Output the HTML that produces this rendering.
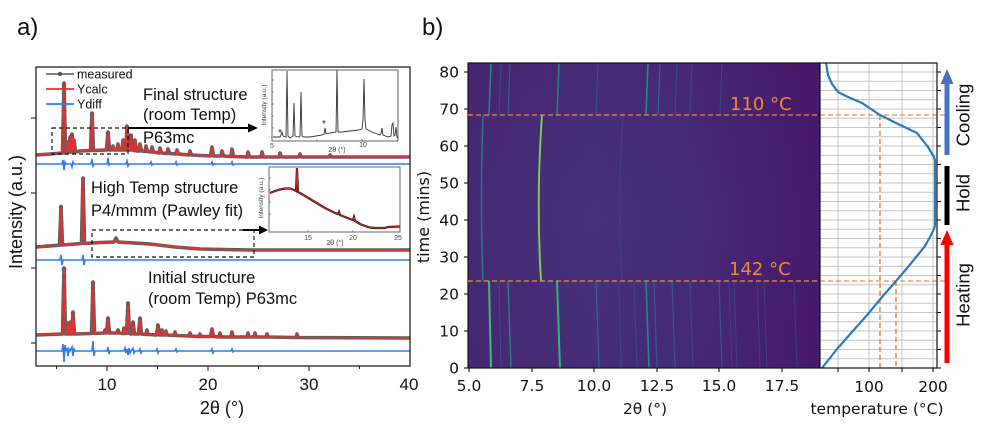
<!DOCTYPE html>
<html><head><meta charset="utf-8"><style>
html,body{margin:0;padding:0;background:#fff;}
svg{display:block;}
.a{font-family:"Liberation Sans",Arial,sans-serif;}
.b{font-family:"DejaVu Sans","Liberation Sans",sans-serif;}
</style></head><body>
<svg width="1000" height="426" viewBox="0 0 1000 426" xmlns="http://www.w3.org/2000/svg">
<defs>
<linearGradient id="hm" x1="0" y1="0" x2="1" y2="0">
<stop offset="0" stop-color="#452b73"/>
<stop offset="0.35" stop-color="#47317c"/>
<stop offset="0.6" stop-color="#462e79"/>
<stop offset="1" stop-color="#461b6b"/>
</linearGradient>
<linearGradient id="hmv" x1="0" y1="0" x2="0" y2="1">
<stop offset="0" stop-color="#440154" stop-opacity="0.12"/>
<stop offset="0.5" stop-color="#440154" stop-opacity="0"/>
<stop offset="1" stop-color="#440154" stop-opacity="0.08"/>
</linearGradient>
</defs>
<rect width="1000" height="426" fill="#fff"/>

<!-- ================= PANEL A ================= -->
<text class="a" x="17" y="35" font-size="24" fill="#111">a)</text>
<text class="a" transform="translate(22,212) rotate(-90)" text-anchor="middle" font-size="18" fill="#111">Intensity (a.u.)</text>

<!-- diff lines -->
<g fill="none" stroke="#2d7cf0" stroke-width="1.6">
<path d="M36,164 L62,164 L63,160 L64,170 L65,162 L66,164 L71,164 L72,167 L73,162 L74,164 L91,164 L92,159 L93,166 L94,164 L107,164 L108,158 L109,165 L110,164 L126,164 L127,161 L128,166 L129,164 L150,164 L151,162 L152,165 L153,164 L175,164 L176,162 L177,165 L178,164 L211,164 L212,162 L213,165 L214,164 L231,164 L232,162 L233,165 L234,164 L410,164"/>
<path d="M36,260 L60,260 L61,255 L62,265 L63,260 L82,260 L83,255 L84,265 L85,260 L410,260"/>
<path d="M36,351 L62,351 L63,344 L64,362 L65,345 L66,351 L67,348 L68,356 L69,349 L70,351 L72,347 L73,356 L74,349 L75,351 L92,351 L93,341 L94,356 L95,351 L107,351 L108,347 L109,354 L110,351 L124,351 L125,348 L126,353 L127,349 L128,355 L129,348 L130,353 L131,351 L133,348 L134,353 L135,351 L139,351 L140,349 L141,353 L142,351 L156,351 L157,349 L158,353 L159,351 L175,351 L176,349 L177,352 L178,351 L211,351 L212,349 L213,353 L214,351 L231,351 L232,349 L233,352 L234,351 L410,351"/>
</g>

<!-- measured (grey) + calc (red) -->
<g fill="none" stroke-linejoin="round">
<path id="pt" stroke="#5e5e5e" stroke-width="3.6" d="M36,155 L50,154 L62.5,153 L64,83 L65.5,153 L67,152.8 L68,142 L69,152 L70,137 L71,152 L72,134 L73,152 L74,140 L75.5,152 L80,151 L90.5,150.5 L92,113 L93.5,150.5 L106.5,150 L108,132 L109.5,150 L112,150 L113,146 L114,150 L117,150 L118,144 L119,150 L122,150 L123,140 L124,150 L126,150 L127,126 L128.5,150 L130,150 L131,135 L132.5,150 L134,150.5 L135,140 L136.5,151 L139,151 L140,144 L141.5,151 L145,151.5 L146,146 L147.5,151.5 L151,152 L152,147 L153.5,152 L159,153 L160,148 L161.5,153 L167,153.5 L168,149 L169.5,153.5 L176,154 L177,150 L178.5,154 L189,155 L190,151 L191.5,155 L210.5,156 L212,147 L213.5,156 L221,156 L222,151 L223.5,156 L231,156.5 L232,149 L233.5,156.5 L247,157 L248,152 L249.5,157 L261,157 L262,152 L263.5,157 L279,157 L280,153 L281.5,157 L299,157 L300,154 L301.5,157 L329,157 L330,155 L331.5,157 L410,157"/>
<path stroke="#5e5e5e" stroke-width="3.6" d="M36,247 L59.5,245.2 L61,207 L62.5,245 L81.5,243.5 L83,178 L84.5,243.5 L100,242.5 L114,242 L116,238 L118,242 L150,244 L175,247 L200,249 L250,250 L410,250"/>
<path stroke="#5e5e5e" stroke-width="3.6" d="M36,335 L62.5,334 L64,268 L65.5,334 L67,334 L68,323 L69,334 L69.5,334 L70.5,322 L71.5,334 L72,334 L73,312 L74.5,334 L91.5,333.5 L93,282 L94.5,333.5 L104,333 L105,330 L106,333 L106.5,333 L108,318 L109.5,333 L117,333 L118,330 L119,333 L123,333.5 L124,328 L125,333.5 L126.5,333.5 L128,303 L129.5,333.5 L131.5,334 L133,322 L134.5,334 L138.5,334 L140,318 L141.5,334 L146,334.5 L147,330 L148,334.5 L156.5,335 L158,325 L159.5,335 L161,335 L162,330 L163,335 L165,335 L166,331 L167,335 L174,335.5 L175,332 L176,335.5 L189,336 L190,333 L191,336 L199,336.5 L200,334 L201,336.5 L210.5,336.5 L212,329 L213.5,336.5 L219,337 L220,333 L221,337 L231,337 L232,332 L233,337 L247,337 L248,333 L249,337 L254,337 L255,333 L256,337 L266,337 L267,334 L268,337 L296,337.5 L297,334 L298,337.5 L410,338"/>
</g>
<g fill="#5a5a5a">
<circle cx="64" cy="84" r="2.2"/><circle cx="64" cy="93" r="2.2"/><circle cx="64" cy="102" r="2.2"/><circle cx="64" cy="111" r="2.2"/><circle cx="64" cy="120" r="2.2"/><circle cx="64" cy="130" r="2.2"/><circle cx="64" cy="140" r="2.2"/>
<circle cx="92" cy="114" r="2.2"/><circle cx="92" cy="124" r="2.2"/><circle cx="92" cy="134" r="2.2"/><circle cx="92" cy="144" r="2.2"/>
<circle cx="108" cy="133" r="2.2"/><circle cx="108" cy="142" r="2.2"/><circle cx="127" cy="127" r="2.2"/><circle cx="127" cy="137" r="2.2"/><circle cx="131" cy="136" r="2"/><circle cx="72" cy="135" r="2"/><circle cx="72" cy="144" r="2"/><circle cx="70" cy="139" r="2"/>
<circle cx="61" cy="207" r="2.2"/><circle cx="61" cy="217" r="2.2"/><circle cx="61" cy="227" r="2.2"/><circle cx="61" cy="237" r="2.2"/>
<circle cx="83" cy="179" r="2.2"/><circle cx="83" cy="189" r="2.2"/><circle cx="83" cy="199" r="2.2"/><circle cx="83" cy="209" r="2.2"/><circle cx="83" cy="219" r="2.2"/><circle cx="83" cy="229" r="2.2"/>
<circle cx="64" cy="269" r="2.4"/><circle cx="64" cy="276" r="2.2"/><circle cx="64" cy="290" r="2.2"/><circle cx="64" cy="305" r="2.2"/><circle cx="64" cy="320" r="2.2"/>
<circle cx="93" cy="283" r="2.2"/><circle cx="93" cy="288" r="2.2"/><circle cx="93" cy="294" r="2.2"/><circle cx="93" cy="306" r="2.2"/><circle cx="93" cy="319" r="2.2"/>
<circle cx="73" cy="313" r="2.2"/><circle cx="73" cy="320" r="2.2"/><circle cx="128" cy="304" r="2.2"/><circle cx="128" cy="311" r="2.2"/><circle cx="108" cy="319" r="2.2"/><circle cx="105" cy="331" r="2"/><circle cx="118" cy="331" r="2"/><circle cx="133" cy="323" r="2"/><circle cx="140" cy="319" r="2"/><circle cx="124" cy="329" r="2"/><circle cx="158" cy="326" r="2"/>
</g>
<g fill="none" stroke="#ee2d2d" stroke-width="1.4" stroke-linejoin="round">
<path d="M36,155 L50,154 L62.5,153 L64,83 L65.5,153 L67,152.8 L68,142 L69,152 L70,137 L71,152 L72,134 L73,152 L74,140 L75.5,152 L80,151 L90.5,150.5 L92,113 L93.5,150.5 L106.5,150 L108,132 L109.5,150 L112,150 L113,146 L114,150 L117,150 L118,144 L119,150 L122,150 L123,140 L124,150 L126,150 L127,126 L128.5,150 L130,150 L131,135 L132.5,150 L134,150.5 L135,140 L136.5,151 L139,151 L140,144 L141.5,151 L145,151.5 L146,146 L147.5,151.5 L151,152 L152,147 L153.5,152 L159,153 L160,148 L161.5,153 L167,153.5 L168,149 L169.5,153.5 L176,154 L177,150 L178.5,154 L189,155 L190,151 L191.5,155 L210.5,156 L212,147 L213.5,156 L221,156 L222,151 L223.5,156 L231,156.5 L232,149 L233.5,156.5 L247,157 L248,152 L249.5,157 L261,157 L262,152 L263.5,157 L279,157 L280,153 L281.5,157 L299,157 L300,154 L301.5,157 L329,157 L330,155 L331.5,157 L410,157"/>
<path d="M36,247 L59.5,245.2 L61,207 L62.5,245 L81.5,243.5 L83,178 L84.5,243.5 L100,242.5 L114,242 L116,238 L118,242 L150,244 L175,247 L200,249 L250,250 L410,250"/>
<path d="M36,335 L62.5,334 L64,268 L65.5,334 L67,334 L68,323 L69,334 L69.5,334 L70.5,322 L71.5,334 L72,334 L73,312 L74.5,334 L91.5,333.5 L93,282 L94.5,333.5 L104,333 L105,330 L106,333 L106.5,333 L108,318 L109.5,333 L117,333 L118,330 L119,333 L123,333.5 L124,328 L125,333.5 L126.5,333.5 L128,303 L129.5,333.5 L131.5,334 L133,322 L134.5,334 L138.5,334 L140,318 L141.5,334 L146,334.5 L147,330 L148,334.5 L156.5,335 L158,325 L159.5,335 L161,335 L162,330 L163,335 L165,335 L166,331 L167,335 L174,335.5 L175,332 L176,335.5 L189,336 L190,333 L191,336 L199,336.5 L200,334 L201,336.5 L210.5,336.5 L212,329 L213.5,336.5 L219,337 L220,333 L221,337 L231,337 L232,332 L233,337 L247,337 L248,333 L249,337 L254,337 L255,333 L256,337 L266,337 L267,334 L268,337 L296,337.5 L297,334 L298,337.5 L410,338"/>
</g>

<!-- legend -->
<line x1="46" y1="74" x2="74" y2="74" stroke="#555" stroke-width="1.6"/><circle cx="60" cy="74" r="2.2" fill="#555"/>
<line x1="46" y1="89" x2="74" y2="89" stroke="#ee2d2d" stroke-width="1.8"/>
<line x1="46" y1="104" x2="74" y2="104" stroke="#2d7cf0" stroke-width="1.8"/>
<text class="a" x="77" y="78.5" font-size="12.5" fill="#111">measured</text>
<text class="a" x="77" y="93.5" font-size="12.5" fill="#111">Ycalc</text>
<text class="a" x="77" y="108.5" font-size="12.5" fill="#111">Ydiff</text>

<!-- dashed boxes & arrows -->
<g fill="none" stroke="#111" stroke-width="1.2" stroke-dasharray="4,3">
<rect x="52" y="128" width="76" height="26"/>
<rect x="92" y="230" width="162" height="27"/>
</g>
<line x1="128" y1="128" x2="250" y2="128" stroke="#000" stroke-width="2"/>
<polygon points="258,128 248,123.5 248,132.5" fill="#000"/>
<line x1="243" y1="230" x2="261" y2="230" stroke="#000" stroke-width="2"/>
<polygon points="268,230 259,225.5 259,234.5" fill="#000"/>

<!-- annotations -->
<text class="a" font-size="16.5" fill="#111"><tspan x="143" y="100">Final structure</tspan><tspan x="143" y="120">(room Temp)</tspan><tspan x="143" y="143">P63mc</tspan></text>
<text class="a" font-size="16.5" fill="#111"><tspan x="91" y="193">High Temp structure</tspan><tspan x="91" y="216">P4/mmm (Pawley fit)</tspan></text>
<text class="a" font-size="16.5" fill="#111"><tspan x="148" y="283">Initial structure</tspan><tspan x="148" y="304">(room Temp) P63mc</tspan></text>

<!-- inset 1 -->
<rect x="272" y="70" width="126" height="71" fill="#fff" stroke="#666" stroke-width="1"/>
<g stroke="#666" stroke-width="0.7">
<line x1="272" y1="80" x2="274" y2="80"/><line x1="272" y1="92" x2="274" y2="92"/><line x1="272" y1="104" x2="274" y2="104"/><line x1="272" y1="116" x2="274" y2="116"/><line x1="272" y1="128" x2="274" y2="128"/>
<line x1="317" y1="141" x2="317" y2="139"/><line x1="362" y1="141" x2="362" y2="139"/>
</g>
<path fill="none" stroke="#333" stroke-width="0.9" d="M273,137 L280,137 L281,135 L282,132 L283,136 L286,137 L287,71 L288,136 L290,138 L293,136 L294,103 L295,136 L299,137 L300,136 L301,92 L302,136 L304,137 L310,137 L316,136 L322,135 L324,134 L325,128 L326,134 L330,133 L336,132 L337,70 L338,132 L342,132 L350,131 L358,130 L362,129 L363,120 L364,79 L365,120 L366,129 L372,132 L380,135 L381,134 L382,128 L383,135 L388,137 L391,136 L392,125 L393,123 L394,136 L395,135 L396,127 L397,137 L398,138"/>
<text class="a" x="278" y="136" font-size="10" fill="#222">*</text>
<text class="a" x="322" y="127" font-size="10" fill="#222">*</text>
<text class="a" transform="translate(266,105) rotate(-90)" text-anchor="middle" font-size="6.5" fill="#444">Intensity (a.u.)</text>
<text class="a" x="272" y="148" text-anchor="middle" font-size="7" fill="#444">5</text>
<text class="a" x="363" y="147" text-anchor="middle" font-size="7" fill="#444">10</text>
<text class="a" x="337" y="152" text-anchor="middle" font-size="7" fill="#444">2θ (°)</text>

<!-- inset 2 -->
<rect x="269" y="167" width="131" height="65" fill="#fff" stroke="#666" stroke-width="1"/>
<g stroke="#666" stroke-width="0.7">
<line x1="269" y1="178" x2="271" y2="178"/><line x1="269" y1="190" x2="271" y2="190"/><line x1="269" y1="202" x2="271" y2="202"/><line x1="269" y1="214" x2="271" y2="214"/>
<line x1="308" y1="232" x2="308" y2="230"/><line x1="353" y1="232" x2="353" y2="230"/>
</g>
<path fill="none" stroke="#2a1a1a" stroke-width="2.2" d="M270,193 L275,191 L280,189.5 L285,188.5 L290,188.5 L294,190 L296,191 L297,168 L298,192 L300,193 L305,196 L310,199 L315,202 L320,205 L325,208 L330,210.5 L335,213 L338,214 L339,212 L340,215 L345,217 L350,219 L353,220 L354,217 L355,221 L360,224 L365,226 L370,227.5 L375,228 L385,228 L388,227 L400,226.5"/>
<path fill="none" stroke="#e22" stroke-width="0.9" d="M270,193 L275,191 L280,189.5 L285,188.5 L290,188.5 L294,190 L296,191 L297,168 L298,192 L300,193 L305,196 L310,199 L315,202 L320,205 L325,208 L330,210.5 L335,213 L338,214 L339,212 L340,215 L345,217 L350,219 L353,220 L354,217 L355,221 L360,224 L365,226 L370,227.5 L375,228 L385,228 L388,227 L400,226.5"/>
<text class="a" transform="translate(263,198) rotate(-90)" text-anchor="middle" font-size="6.5" fill="#444">Intensity (a.u.)</text>
<text class="a" x="308" y="240" text-anchor="middle" font-size="7" fill="#444">15</text>
<text class="a" x="353" y="240" text-anchor="middle" font-size="7" fill="#444">20</text>
<text class="a" x="398" y="240" text-anchor="middle" font-size="7" fill="#444">25</text>
<text class="a" x="335" y="245" text-anchor="middle" font-size="7" fill="#444">2θ (°)</text>

<!-- panel a frame & ticks -->
<rect x="36" y="67" width="374" height="299" fill="none" stroke="#222" stroke-width="1.3"/>
<g stroke="#222" stroke-width="1.1">
<line x1="31" y1="118" x2="36" y2="118"/><line x1="31" y1="193" x2="36" y2="193"/><line x1="31" y1="268" x2="36" y2="268"/><line x1="31" y1="343" x2="36" y2="343"/>
<line x1="56.5" y1="366" x2="56.5" y2="369"/><line x1="107" y1="366" x2="107" y2="371"/><line x1="157.5" y1="366" x2="157.5" y2="369"/><line x1="208" y1="366" x2="208" y2="371"/><line x1="258.5" y1="366" x2="258.5" y2="369"/><line x1="309" y1="366" x2="309" y2="371"/><line x1="359.5" y1="366" x2="359.5" y2="369"/>
</g>
<g class="a" font-size="17" fill="#111" text-anchor="middle">
<text x="107" y="390">10</text><text x="208" y="390">20</text><text x="309" y="390">30</text><text x="409" y="390">40</text>
</g>
<text class="a" x="222" y="414" text-anchor="middle" font-size="18" fill="#111">2θ (°)</text>

<!-- ================= PANEL B ================= -->
<text class="a" x="422" y="35" font-size="24" fill="#111">b)</text>

<!-- heatmap -->
<rect x="468" y="63" width="352" height="305" fill="url(#hm)"/>
<rect x="468" y="63" width="352" height="305" fill="url(#hmv)"/>
<g fill="none" stroke-linecap="butt">
<!-- heating section -->
<path d="M491,368 L489,281" stroke="#3dbc74" stroke-width="2"/>
<path d="M501,368 L499,281" stroke="#3e4c8a" stroke-width="1"/>
<path d="M511,368 L508,281" stroke="#2b7a8e" stroke-width="1.4"/>
<path d="M560,368 L557,281" stroke="#33b47a" stroke-width="2"/>
<path d="M599,368 L596,281" stroke="#32658e" stroke-width="1.2"/>
<path d="M621,368 L619,281" stroke="#40478a" stroke-width="1"/>
<path d="M637,368 L634,281" stroke="#40478a" stroke-width="1"/>
<path d="M649,368 L646,281" stroke="#25868e" stroke-width="1.6"/>
<path d="M657,368 L654,281" stroke="#38598c" stroke-width="1.2"/>
<path d="M675,368 L672,281" stroke="#39568c" stroke-width="1.2"/>
<path d="M693,368 L690,281" stroke="#414487" stroke-width="1"/>
<path d="M722,368 L719,281" stroke="#3b528b" stroke-width="1.2"/>
<path d="M732,368 L729,281" stroke="#433e85" stroke-width="1"/>
<path d="M737,368 L734,281" stroke="#433e85" stroke-width="1"/>
<path d="M760,368 L757,281" stroke="#433e85" stroke-width="1"/>
<path d="M767,368 L764,281" stroke="#433e85" stroke-width="1"/>
<path d="M797,368 L794,281" stroke="#453781" stroke-width="1"/>
<!-- high-T section -->
<path d="M483,281 Q480,200 483,115" stroke="#2c728e" stroke-width="1.6"/>
<path d="M541,281 Q536,200 542,115" stroke="#7ad151" stroke-width="1.9"/>
<path d="M622,281 Q617,200 623,115" stroke="#433e85" stroke-width="1.1"/>
<!-- cooling section -->
<path d="M489,115 L491,63" stroke="#25858e" stroke-width="1.6"/>
<path d="M499,115 L501,63" stroke="#414487" stroke-width="1"/>
<path d="M508,115 L510,63" stroke="#355f8d" stroke-width="1.2"/>
<path d="M557,115 L559,63" stroke="#277f8e" stroke-width="1.6"/>
<path d="M596,115 L598,63" stroke="#3b528b" stroke-width="1.1"/>
<path d="M646,115 L648,63" stroke="#23898e" stroke-width="1.6"/>
<path d="M658,115 L660,63" stroke="#31688e" stroke-width="1.2"/>
<path d="M675,115 L677,63" stroke="#3e4a89" stroke-width="1.1"/>
<path d="M690,115 L692,63" stroke="#414487" stroke-width="1"/>
<path d="M720,115 L722,63" stroke="#414487" stroke-width="1"/>
</g>
<rect x="468" y="63" width="352" height="305" fill="none" stroke="#111" stroke-width="1.2"/>

<!-- temperature panel -->
<rect x="820" y="63" width="117" height="305" fill="#fff"/>
<g stroke="#c4c4c4" stroke-width="1">
<line x1="838" y1="63" x2="838" y2="368"/><line x1="869" y1="63" x2="869" y2="368"/><line x1="902" y1="63" x2="902" y2="368"/><line x1="933" y1="63" x2="933" y2="368"/>
<line x1="820" y1="358.75" x2="937" y2="358.75"/><line x1="820" y1="349.5" x2="937" y2="349.5"/><line x1="820" y1="340.25" x2="937" y2="340.25"/><line x1="820" y1="331" x2="937" y2="331"/>
<line x1="820" y1="321.75" x2="937" y2="321.75"/><line x1="820" y1="312.5" x2="937" y2="312.5"/><line x1="820" y1="303.25" x2="937" y2="303.25"/><line x1="820" y1="294" x2="937" y2="294"/>
<line x1="820" y1="284.75" x2="937" y2="284.75"/><line x1="820" y1="275.5" x2="937" y2="275.5"/><line x1="820" y1="266.25" x2="937" y2="266.25"/><line x1="820" y1="257" x2="937" y2="257"/>
<line x1="820" y1="247.75" x2="937" y2="247.75"/><line x1="820" y1="238.5" x2="937" y2="238.5"/><line x1="820" y1="229.25" x2="937" y2="229.25"/><line x1="820" y1="220" x2="937" y2="220"/>
<line x1="820" y1="210.75" x2="937" y2="210.75"/><line x1="820" y1="201.5" x2="937" y2="201.5"/><line x1="820" y1="192.25" x2="937" y2="192.25"/><line x1="820" y1="183" x2="937" y2="183"/>
<line x1="820" y1="173.75" x2="937" y2="173.75"/><line x1="820" y1="164.5" x2="937" y2="164.5"/><line x1="820" y1="155.25" x2="937" y2="155.25"/><line x1="820" y1="146" x2="937" y2="146"/>
<line x1="820" y1="136.75" x2="937" y2="136.75"/><line x1="820" y1="127.5" x2="937" y2="127.5"/><line x1="820" y1="118.25" x2="937" y2="118.25"/><line x1="820" y1="109" x2="937" y2="109"/>
<line x1="820" y1="99.75" x2="937" y2="99.75"/><line x1="820" y1="90.5" x2="937" y2="90.5"/><line x1="820" y1="81.25" x2="937" y2="81.25"/><line x1="820" y1="72" x2="937" y2="72"/>
</g>
<!-- orange dashed guides -->
<g stroke="#ef8c4c" stroke-width="1.3" stroke-dasharray="5,3" fill="none">
<line x1="468" y1="115" x2="946" y2="115"/>
<line x1="468" y1="281" x2="946" y2="281"/>
<line x1="880" y1="115" x2="880" y2="368" stroke-width="1.6"/>
<line x1="896" y1="281" x2="896" y2="368" stroke-width="1.6"/>
</g>
<path fill="none" stroke="#2a7ab9" stroke-width="2.2" stroke-linejoin="round" d="M822,368 L830,358 L837,349 L852,332 L868,314 L882,297 L897,280 L908,267 L917,256 L925,246 L930,237 L933,231 L935,226 L935,160 L934,157 L928,147 L917,133 L898,124 L880,115 L862,103 L848,97 L838,92 L832,84 L828,75 L826,63"/>
<rect x="820" y="63" width="117" height="305" fill="none" stroke="#111" stroke-width="1.2"/>

<!-- axis ticks panel b -->
<g stroke="#111" stroke-width="1.1">
<line x1="464" y1="368" x2="468" y2="368"/><line x1="464" y1="331" x2="468" y2="331"/><line x1="464" y1="294" x2="468" y2="294"/><line x1="464" y1="257" x2="468" y2="257"/><line x1="464" y1="220" x2="468" y2="220"/><line x1="464" y1="183" x2="468" y2="183"/><line x1="464" y1="146" x2="468" y2="146"/><line x1="464" y1="109" x2="468" y2="109"/><line x1="464" y1="72" x2="468" y2="72"/>
<line x1="469" y1="368" x2="469" y2="372"/><line x1="532" y1="368" x2="532" y2="372"/><line x1="594" y1="368" x2="594" y2="372"/><line x1="657" y1="368" x2="657" y2="372"/><line x1="719" y1="368" x2="719" y2="372"/><line x1="782" y1="368" x2="782" y2="372"/>
<line x1="838" y1="368" x2="838" y2="372"/><line x1="869" y1="368" x2="869" y2="372"/><line x1="902" y1="368" x2="902" y2="372"/><line x1="933" y1="368" x2="933" y2="372"/>
<line x1="937" y1="368" x2="941" y2="368"/><line x1="937" y1="349.5" x2="941" y2="349.5"/><line x1="937" y1="331" x2="941" y2="331"/><line x1="937" y1="312.5" x2="941" y2="312.5"/><line x1="937" y1="294" x2="941" y2="294"/><line x1="937" y1="275.5" x2="941" y2="275.5"/><line x1="937" y1="257" x2="941" y2="257"/><line x1="937" y1="238.5" x2="941" y2="238.5"/><line x1="937" y1="220" x2="941" y2="220"/><line x1="937" y1="201.5" x2="941" y2="201.5"/><line x1="937" y1="183" x2="941" y2="183"/><line x1="937" y1="164.5" x2="941" y2="164.5"/><line x1="937" y1="146" x2="941" y2="146"/><line x1="937" y1="127.5" x2="941" y2="127.5"/><line x1="937" y1="109" x2="941" y2="109"/><line x1="937" y1="90.5" x2="941" y2="90.5"/><line x1="937" y1="72" x2="941" y2="72"/>
</g>
<g class="b" font-size="15.5" fill="#111" text-anchor="end">
<text x="459" y="373.5">0</text><text x="459" y="336.5">10</text><text x="459" y="299.5">20</text><text x="459" y="262.5">30</text><text x="459" y="225.5">40</text><text x="459" y="188.5">50</text><text x="459" y="151.5">60</text><text x="459" y="114.5">70</text><text x="459" y="77.5">80</text>
</g>
<g class="b" font-size="15.5" fill="#111" text-anchor="middle">
<text x="469" y="391">5.0</text><text x="532" y="391">7.5</text><text x="594" y="391">10.0</text><text x="657" y="391">12.5</text><text x="719" y="391">15.0</text><text x="782" y="391">17.5</text>
<text x="869" y="392">100</text><text x="933" y="392">200</text>
<text x="645" y="414">2θ (°)</text>
<text x="877" y="414">temperature (°C)</text>
</g>
<text class="b" transform="translate(429,217) rotate(-90)" text-anchor="middle" font-size="16" fill="#111">time (mins)</text>
<g class="b" font-size="18" fill="#f08a3c">
<text x="730" y="110">110 °C</text>
<text x="729" y="275">142 °C</text>
</g>

<!-- process arrows -->
<rect x="944.5" y="82" width="5" height="73" fill="#4472c4"/>
<polygon points="947,69 940.5,84 953.5,84" fill="#4472c4"/>
<rect x="944.5" y="166" width="5" height="59" fill="#000"/>
<rect x="944.5" y="243" width="5" height="120" fill="#ff0000"/>
<polygon points="947,230 940.5,245 953.5,245" fill="#ff0000"/>
<g class="a" font-size="18.5" fill="#111" text-anchor="middle">
<text transform="translate(969.5,115) rotate(-90)">Cooling</text>
<text transform="translate(969.5,193) rotate(-90)">Hold</text>
<text transform="translate(969.5,295) rotate(-90)">Heating</text>
</g>
</svg>
</body></html>
